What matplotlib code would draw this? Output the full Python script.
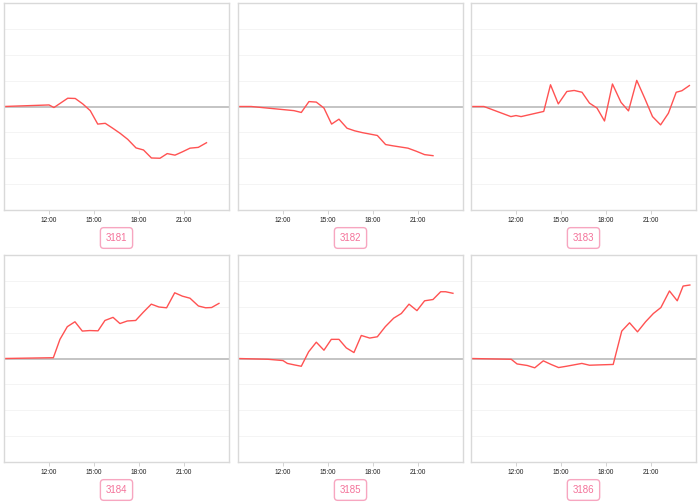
import matplotlib
import matplotlib.pyplot as plt
from matplotlib.ticker import FixedLocator, FuncFormatter

matplotlib.use('Agg')
plt.rcParams['font.family'] = ['Liberation Sans', 'DejaVu Sans']

# 各面板数据：时间(小时) 与 数值
names = ["3181", "3182", "3183", "3184", "3185", "3186"]

t_3181 = [9.0, 12.0, 12.33, 13.25, 13.75, 14.25, 14.75, 15.25, 15.75, 16.25, 16.75, 17.25,
          17.8, 18.3, 18.83, 19.4, 19.88, 20.4, 20.9, 21.4, 21.95, 22.5]
v_3181 = [0.0, 0.06, -0.04, 0.32, 0.31, 0.1, -0.16, -0.68, -0.65, -0.84, -1.04, -1.27,
          -1.6, -1.68, -1.99, -2.0, -1.82, -1.88, -1.75, -1.61, -1.58, -1.4]

t_3182 = [9.0, 9.88, 12.73, 13.22, 13.73, 14.22, 14.73, 15.24, 15.73, 16.27, 16.78, 17.29,
          18.29, 18.84, 19.33, 20.33, 20.89, 21.44, 22.0]
v_3182 = [0.0, 0.0, -0.16, -0.23, 0.19, 0.17, -0.06, -0.68, -0.49, -0.84, -0.94, -1.01,
          -1.12, -1.47, -1.52, -1.61, -1.73, -1.86, -1.9]

t_3183 = [9.0, 9.86, 11.66, 12.0, 12.34, 13.85, 14.3, 14.82, 15.39, 15.88, 16.4, 16.9,
          17.4, 17.9, 18.43, 19.0, 19.5, 20.05, 20.58, 21.1, 21.64, 22.16, 22.68, 23.06, 23.56]
v_3183 = [0.0, 0.0, -0.39, -0.35, -0.39, -0.19, 0.84, 0.1, 0.58, 0.62, 0.55, 0.13,
          -0.06, -0.56, 0.87, 0.16, -0.17, 1.01, 0.32, -0.39, -0.71, -0.26, 0.55, 0.61, 0.81]

t_3184 = [9.0, 12.29, 12.73, 13.22, 13.73, 14.22, 14.71, 15.27, 15.73, 16.27, 16.73, 17.22,
          17.78, 18.29, 18.82, 19.33, 19.84, 20.38, 20.89, 21.4, 21.96, 22.44, 22.84, 23.33]
v_3184 = [0.0, 0.03, 0.74, 1.23, 1.42, 1.06, 1.08, 1.07, 1.47, 1.59, 1.35, 1.45,
          1.47, 1.79, 2.1, 1.99, 1.96, 2.54, 2.41, 2.33, 2.03, 1.96, 1.97, 2.13]

t_3185 = [9.0, 11.0, 12.0, 12.29, 12.78, 13.22, 13.71, 14.22, 14.73, 15.22, 15.73, 16.22,
          16.73, 17.22, 17.78, 18.29, 18.82, 19.38, 19.89, 20.4, 20.93, 21.44, 22.0, 22.51,
          22.84, 23.33]
v_3185 = [0.0, -0.03, -0.08, -0.19, -0.25, -0.3, 0.26, 0.63, 0.32, 0.74, 0.74, 0.41,
          0.23, 0.89, 0.79, 0.84, 1.23, 1.56, 1.74, 2.1, 1.85, 2.23, 2.28, 2.58,
          2.58, 2.52]

t_3186 = [9.0, 11.68, 12.07, 12.75, 13.25, 13.82, 14.34, 14.84, 15.36, 16.39, 16.9, 17.4,
          18.48, 19.05, 19.57, 20.1, 20.64, 21.16, 21.66, 22.23, 22.75, 23.14, 23.59]
v_3186 = [0.0, -0.03, -0.21, -0.27, -0.36, -0.09, -0.23, -0.35, -0.3, -0.19, -0.26, -0.25,
          -0.23, 1.06, 1.38, 1.03, 1.42, 1.74, 1.97, 2.61, 2.23, 2.8, 2.84]

times = [t_3181, t_3182, t_3183, t_3184, t_3185, t_3186]
values = [v_3181, v_3182, v_3183, v_3184, v_3185, v_3186]

x_ticks = [12, 15, 18, 21]
y_grid = [-3, -2, -1, 1, 2, 3]

W, H = 700, 504
fig = plt.figure(figsize=(W / 100, H / 100), dpi=100)

# 面板位置 (像素)
lefts = [4, 238, 471]
tops = [3, 255]
pw, ph = 225, 207

for i, name in enumerate(names):
    row, col = divmod(i, 3)
    l, t = lefts[col], tops[row]
    ax = fig.add_axes([l / W, 1 - (t + ph) / H, pw / W, ph / H])
    ax.set_xlim(9, 24)
    ax.set_ylim(-4, 4)
    for y in y_grid:
        ax.axhline(y, color='#f3f3f3', lw=0.6, zorder=0)
    ax.axhline(0, color='#b4b4b4', lw=1.1, zorder=1)
    ax.plot(times[i], values[i], color='#ff5252', lw=1.0, zorder=2)
    ax.xaxis.set_major_locator(FixedLocator(x_ticks))
    ax.xaxis.set_major_formatter(FuncFormatter(lambda v, p: f"{int(v)}:00"))
    ax.tick_params(axis='x', length=3, width=0.6, color='#cccccc', labelsize=4.8,
                   labelcolor='#222222', pad=2)
    ax.set_yticks([])
    for sp in ax.spines.values():
        sp.set_color('#d9d9d9')
        sp.set_linewidth(1.0)
    # 底部标签框
    cx = (l + pw / 2) / W
    cy = 1 - (t + ph + 28) / H
    fig.text(cx, cy, name, ha='center', va='center', fontsize=7, color='#f4729a',
             bbox=dict(boxstyle='round,pad=0.55,rounding_size=0.35', fc='white',
                       ec='#f7a6c0', lw=1.0))

fig.savefig('out.png', dpi=100)
